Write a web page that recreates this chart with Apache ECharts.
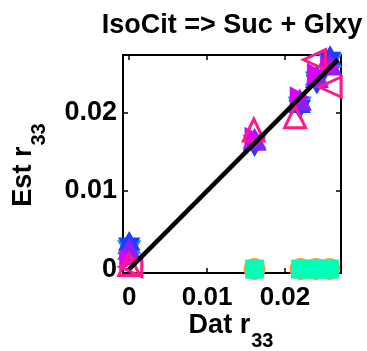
<!DOCTYPE html>
<html>
<head>
<meta charset="utf-8">
<script src="https://cdn.jsdelivr.net/npm/echarts@6/dist/echarts.min.js"></script>
<style>
  html, body { margin: 0; padding: 0; background: #fff; }
  #chart { width: 367px; height: 351px; }
</style>
</head>
<body>
<div id="chart"></div>
<script>
// Measured reaction fraction (Dat) at each condition
const dat = [0, 0.0161, 0.0219, 0.0241, 0.0258];

// Model estimates (Est) for each fitting run
const estBlue    = [0.0032, 0.0160, 0.0208, 0.0240, 0.0270];
const estSky     = [0.0028, 0.0163, 0.0212, 0.0244, 0.0267];
const estViolet  = [0.0026, 0.0166, 0.0217, 0.0246, 0.0262];
const estMagenta = [0.0012, 0.0168, 0.0220, 0.0250, 0.0258];

const pinkUpDat   = [0, 0.0160, 0.0213];
const pinkUpEst   = [0.0006, 0.0178, 0.0195];
const pinkLeftDat = [0.0002, 0.0238, 0.0258];
const pinkLeftEst = [0.0003, 0.0268, 0.0233];

// Runs that returned no flux at the measured points
const zeroDat = [0.0161, 0.0220, 0.0240, 0.0257];
const zeroEst = [0, 0, 0, 0];

// Identity line endpoints
const diagonal = [0, 0.0268];

// Tick positions and labels
const xTicks = [0, 0.01, 0.02];
const xTickLabels = ['0', '0.01', '0.02'];
const yTicks = [0, 0.01, 0.02];
const yTickLabels = ['0', '0.01', '0.02'];

const FONT = '"Liberation Sans", Arial, Helvetica, sans-serif';

function pairs(xs, ys) { return xs.map((x, i) => [x, ys[i]]); }
function tickLabel(ticks, labels) {
  return v => {
    const i = ticks.findIndex(t => Math.abs(t - v) < 1e-9);
    return i >= 0 ? labels[i] : '';
  };
}

// Six-pointed star outline
function hexagramPath() {
  const pts = [];
  for (let k = 0; k < 12; k++) {
    const a = (-90 + 30 * k) * Math.PI / 180;
    const r = k % 2 === 0 ? 1 : 0.5774;
    pts.push((r * Math.cos(a)).toFixed(4) + ' ' + (r * Math.sin(a)).toFixed(4));
  }
  return 'path://M' + pts.join(' L') + ' Z';
}
const HEX = hexagramPath();

function measure(text, font) {
  const ctx = document.createElement('canvas').getContext('2d');
  ctx.font = font;
  return ctx.measureText(text).width;
}

const nameFont = 'bold 27px ' + FONT;
const subFont = 'bold 20px ' + FONT;

function subscriptLabel(main, sub) {
  const w1 = measure(main, nameFont);
  const w2 = measure(sub, subFont);
  const total = w1 + w2 + 1;
  return [
    { type: 'text', x: -total / 2, y: 0,
      style: { text: main, font: nameFont, fill: '#000', textAlign: 'left', textVerticalAlign: 'middle' } },
    { type: 'text', x: -total / 2 + w1 + 1, y: 15,
      style: { text: sub, font: subFont, fill: '#000', textAlign: 'left', textVerticalAlign: 'middle' } }
  ];
}

const axisCommon = {
  type: 'value',
  axisLine: { show: true, onZero: false, lineStyle: { color: '#000', width: 2 } },
  splitLine: { show: false }
};

const chart = echarts.init(document.getElementById('chart'), null, { renderer: 'canvas' });

chart.setOption({
  animation: false,
  backgroundColor: '#fff',
  grid: { left: 123, right: 26, top: 55, bottom: 78, containLabel: false, outerBoundsMode: 'none' },
  xAxis: [
    Object.assign({}, axisCommon, {
      min: -0.0008, max: 0.0272, position: 'bottom',
      axisTick: { show: true, inside: true, length: 5, customValues: xTicks, lineStyle: { color: '#000', width: 1.5 } },
      axisLabel: { customValues: xTicks, formatter: tickLabel(xTicks, xTickLabels), color: '#000',
                   fontSize: 26, fontWeight: 'bold', fontFamily: FONT, margin: 12 }
    }),
    Object.assign({}, axisCommon, {
      min: -0.0008, max: 0.0272, position: 'top',
      axisTick: { show: true, inside: true, length: 5, customValues: xTicks, lineStyle: { color: '#000', width: 1.5 } },
      axisLabel: { show: false }
    })
  ],
  yAxis: [
    Object.assign({}, axisCommon, {
      min: -0.0005, max: 0.0274, position: 'left',
      axisTick: { show: true, inside: true, length: 5, customValues: yTicks, lineStyle: { color: '#000', width: 1.5 } },
      axisLabel: { customValues: yTicks, formatter: tickLabel(yTicks, yTickLabels), color: '#000',
                   fontSize: 27, fontWeight: 'bold', fontFamily: FONT, margin: 6 }
    }),
    Object.assign({}, axisCommon, {
      min: -0.0005, max: 0.0274, position: 'right',
      axisTick: { show: true, inside: true, length: 5, customValues: yTicks, lineStyle: { color: '#000', width: 1.5 } },
      axisLabel: { show: false }
    })
  ],
  graphic: [
    { type: 'text', x: 232, y: 26,
      style: { text: 'IsoCit => Suc + Glxy', font: 'bold 27px ' + FONT, fill: '#000',
               textAlign: 'center', textVerticalAlign: 'middle' } },
    { type: 'group', x: 231, y: 326, children: subscriptLabel('Dat r', '33') },
    { type: 'group', x: 24, y: 165, rotation: Math.PI / 2, children: subscriptLabel('Est r', '33') }
  ],
  series: [
    { type: 'scatter', clip: false, z: 3, data: pairs(zeroDat, zeroEst),
      symbol: 'circle', symbolSize: 22, itemStyle: { color: '#ffa31a', opacity: 1 } },
    { type: 'scatter', clip: false, z: 4, data: pairs(zeroDat, zeroEst),
      symbol: 'rect', symbolSize: 19, itemStyle: { color: '#00ffb9', opacity: 1 } },
    { type: 'scatter', clip: false, z: 5, data: pairs(dat, estSky),
      symbol: HEX, symbolKeepAspect: true, symbolSize: 28, itemStyle: { color: '#0a9bff', opacity: 1 } },
    { type: 'scatter', clip: false, z: 6, data: pairs(dat, estBlue),
      symbol: HEX, symbolKeepAspect: true, symbolSize: 26, itemStyle: { color: '#1f3cff', opacity: 1 } },
    { type: 'scatter', clip: false, z: 7, data: pairs(dat, estViolet),
      symbol: 'triangle', symbolSize: [24, 22], itemStyle: { color: '#8c1fff', opacity: 1 } },
    { type: 'scatter', clip: false, z: 8, data: pairs(dat, estMagenta),
      symbol: 'triangle', symbolRotate: -90, symbolSize: [22, 20], itemStyle: { color: '#d800ff', opacity: 1 } },
    { type: 'scatter', clip: false, z: 9, data: pairs(pinkUpDat, pinkUpEst),
      symbol: 'triangle', symbolSize: [21, 22],
      itemStyle: { color: 'rgba(0,0,0,0)', borderColor: '#ff1a8c', borderWidth: 3, opacity: 1 } },
    { type: 'scatter', clip: false, z: 9, data: pairs(pinkLeftDat, pinkLeftEst),
      symbol: 'triangle', symbolRotate: 90, symbolSize: [20, 22],
      itemStyle: { color: 'rgba(0,0,0,0)', borderColor: '#ff1a8c', borderWidth: 3, opacity: 1 } },
    { type: 'line', z: 10, data: pairs(diagonal, diagonal), symbol: 'none', silent: true,
      lineStyle: { color: '#000', width: 4.5 } }
  ]
});
</script>
</body>
</html>
